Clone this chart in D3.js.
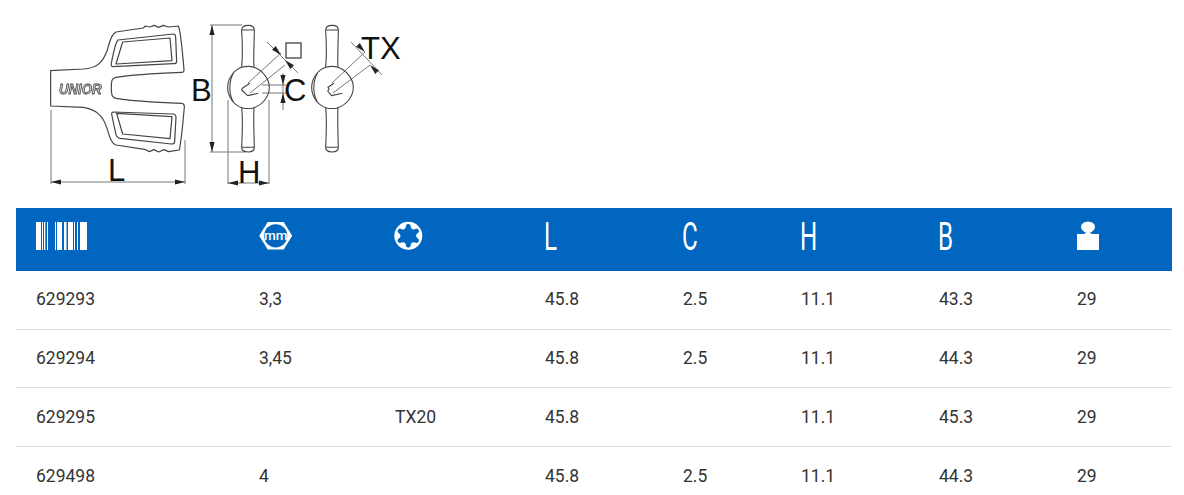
<!DOCTYPE html>
<html><head><meta charset="utf-8">
<script src="https://cdn.jsdelivr.net/npm/d3@7/dist/d3.min.js"></script>
<style>html,body{margin:0;padding:0;background:#fff;overflow:hidden}svg{display:block}</style>
</head><body><div id="c"></div>
<script>
const codes=["629293","629294","629295","629498"];
const sizes=["3,3","3,45","","4"];
const torx=["","","TX20",""];
const lengths=["45.8","45.8","45.8","45.8"];
const cVals=["2.5","2.5","","2.5"];
const hVals=["11.1","11.1","11.1","11.1"];
const bVals=["43.3","44.3","45.3","44.3"];
const weights=["29","29","29","29"];
const columns=[codes,sizes,torx,lengths,cVals,hVals,bVals,weights];
const headerLetters=[null,null,null,"L","C","H","B",null];
const colX=[36,259,395,545,683,801,939,1077];

const W=1184,H=495,ink="#444",blue="#0066bf";
const svg=d3.select("#c").append("svg").attr("width",W).attr("height",H).attr("viewBox",[0,0,W,H]);
const defs=svg.append("defs");
defs.append("filter").attr("id","soft").append("feGaussianBlur").attr("stdDeviation",.35);
const x=d3.scaleOrdinal().domain(d3.range(columns.length)).range(colX);
const y=d3.scaleLinear().domain([0,3]).range([299,475.6]);

// header band
svg.append("rect").attr("x",16).attr("y",208).attr("width",1156).attr("height",63).attr("fill",blue);

// rows
const cols=svg.selectAll("g.col").data(columns).join("g").attr("class","col");
cols.selectAll("text").data(d=>d).join("text")
  .attr("x",function(){return x(columns.indexOf(d3.select(this.parentNode).datum()))})
  .attr("y",(d,i)=>y(i)).attr("dy","0.36em")
  .attr("font-family","Roboto").attr("font-size",17.5).attr("fill","#333").text(d=>d);

// separators
svg.selectAll("line.sep").data(d3.range(3)).join("line").attr("class","sep")
  .attr("x1",16).attr("x2",1172)
  .attr("y1",d=>Math.round(y(d)+29.6)+.5).attr("y2",d=>Math.round(y(d)+29.6)+.5)
  .attr("stroke","#dedede");

// header letters
headerLetters.forEach((t,i)=>{ if(!t) return;
  svg.append("text").attr("transform",`translate(${x(i)-1},250) scale(.62,1)`)
   .attr("font-family","Roboto").attr("font-weight",400).attr("font-size",39).attr("fill","#fff").text(t);
});

// barcode icon
const bars=[[36,5],[42,1],[44,1.3],[47,1],[55,1],[57,5],[64,2.5],[68,5],[74,1],[77,1],[80,7]];
svg.append("g").selectAll("rect").data(bars).join("rect")
 .attr("x",d=>d[0]).attr("y",222).attr("width",d=>d[1]).attr("height",28).attr("fill","#fff");

// hex mm icon
const hex=svg.append("g").attr("transform","translate(275.7,235.8)");
hex.append("path").attr("d","M-16.5,0 L-8,-13.7 L8,-13.7 L16.5,0 L8,13.7 L-8,13.7Z").attr("fill","#fff");
hex.append("circle").attr("r",11.6).attr("fill",blue);
hex.append("text").attr("text-anchor","middle").attr("y",4.2).attr("font-family","Roboto").attr("font-size",13.5).attr("font-weight",500).attr("fill","#fff").text("mm");

// torx icon
const tx=svg.append("g").attr("transform","translate(408.3,235.8)");
tx.append("circle").attr("r",14).attr("fill","#fff");
tx.append("path").attr("fill",blue).attr("d",d3.range(6).map(i=>{
  const a=(i*60-90)*Math.PI/180,b=(i*60-60)*Math.PI/180,c=(i*60-30)*Math.PI/180;
  const P=(r,t)=>`${(r*Math.cos(t)).toFixed(2)},${(r*Math.sin(t)).toFixed(2)}`;
  return `${i?"L":"M"}${P(11,a-.2)} Q${P(13,a)} ${P(11,a+.2)} Q${P(5,b)} ${P(11,c-.2)}`;
}).join(" ")+"Z");

// weight icon
const wt=svg.append("g").attr("fill","#fff");
wt.append("ellipse").attr("cx",1088).attr("cy",227).attr("rx",7).attr("ry",5.5);
wt.append("path").attr("d","M1077,234 H1084 L1088,231 L1092,234 H1099 V250 H1077Z");

// ---- technical drawing, side view, in 3x crop units
const drawing=svg.append("g").attr("filter","url(#soft)");
const draw=drawing.append("g").attr("fill","none").attr("stroke",ink).attr("stroke-linejoin","round");
const side=draw.append("g").attr("transform","translate(30,10) scale(.3333)").attr("stroke-width",3.6);
side.append("path").attr("d","M62,182 L160,177 C200,174 218,160 232,120 C240,92 245,72 258,66 L340,54 L346,48 L360,51 L372,46 L386,52 L400,46 L415,51 L445,48 C452,60 456,110 462,178 Q463,187 455,187 C380,190 300,195 258,202 C246,205 244,210 244,232 C244,256 246,262 258,265 C300,272 380,277 455,280 Q464,281 463,292 C458,350 455,385 448,420 L416,425 L402,419 L386,426 L372,419 L358,425 L344,418 L258,405 C245,400 240,385 232,358 C220,318 200,298 160,292 L62,288 Z");
side.append("path").attr("d","M264,90 L430,72 C436,72 437,76 437,82 L440,155 C440,160 436,161 430,161 L250,170 C244,170 243,166 244,160 C250,130 255,100 264,90Z");
side.append("path").attr("d","M278,96 L420,84 L426,152 L258,162 Z");
side.append("path").attr("d","M250,306 L430,312 C437,313 438,316 438,322 L434,395 C434,400 430,402 424,402 L270,385 C262,384 260,380 258,374 C254,355 248,330 245,312 C245,307 247,306 250,306Z");
side.append("path").attr("d","M260,310 L426,320 L420,386 L278,372 Z");
// UNIOR
side.append("text").attr("x",87).attr("y",251).attr("font-family","Liberation Sans").attr("font-weight",700).attr("font-style","italic").attr("font-size",46).attr("textLength",128).attr("lengthAdjust","spacingAndGlyphs").attr("stroke-width",2.5).attr("fill","#ccc").text("UNIOR");

// dimension lines (thin)
const dims=draw.append("g").attr("stroke","#777").attr("stroke-width",1);
const segs=[[210,25,242,25],[212,25,212,152],[210,152,245,152],[51,110,51,184],[185,140,185,184],[51,182,185,182],
 [228,100,228,184],[269,100,269,184],[228,183,269,183],[283,73,283,110],[262,85,286,85],[262,93,286,93],
 [267,42,298,73],[281,53,248,83],[285,65,250,93],[351,42,382,75],[365,52,332,83],[370,65,333,93]];
dims.selectAll("line").data(segs).join("line").attr("x1",d=>d[0]).attr("y1",d=>d[1]).attr("x2",d=>d[2]).attr("y2",d=>d[3]);

// arrows
const arrow=(px,py,deg)=>drawing.append("path").attr("fill","#222").attr("d","M0,0 L-10,-2.6 L-10,2.6Z").attr("transform",`translate(${px},${py}) rotate(${deg})`);
[[51,182,180],[185,182,0],[212,25,-90],[212,152,90],[228,183,180],[269,183,0],[283,85,90],[283,93,-90],
 [281,55,45],[285,60,-135],[365,52,45],[370,65,-135]].forEach(a=>arrow(...a));

// front views
const front=(dx,slot)=>{
 const g=draw.append("g").attr("transform",`translate(${190+dx},10) scale(.3333)`).attr("stroke-width",3.3);
 g.append("path").attr("d","M155,60 Q155,46 175,46 Q193,46 193,60 L193,70 C192,110 190,150 192,172 C215,180 238,205 238,232 C238,262 215,285 192,293 C190,320 192,370 193,412 Q193,426 175,426 Q155,426 155,412 C157,370 158,320 155,293 C132,285 113,262 113,232 C113,205 132,180 155,172 C157,150 158,110 155,60Z");
 g.append("path").attr("d","M155,60 H193 M155,412 H193 M130,190 C116,215 116,255 130,275 M155,172 C170,168 180,168 192,172 M155,293 C170,297 180,297 192,293");
 g.append("path").attr("d",slot);
};
front(0,"M180,220 L157,235 L155,240 L173,257 L205,250");
front(84,"M180,220 L162,232 L165,238 L161,243 L173,257 L205,250");

// square symbol
drawing.append("rect").attr("x",286).attr("y",43).attr("width",15).attr("height",15).attr("fill","none").attr("stroke",ink).attr("stroke-width",1.3);

// dimension letters
const labels=[["L",108,181,31],["B",191,101,31],["C",284,101,31],["H",238,183,31],["TX",361,59,31]];
svg.append("g").selectAll("text").data(labels).join("text")
 .attr("x",d=>d[1]).attr("y",d=>d[2]).attr("font-size",d=>d[3])
 .attr("font-family","Liberation Sans").attr("fill","#111").text(d=>d[0]);
</script></body></html>
